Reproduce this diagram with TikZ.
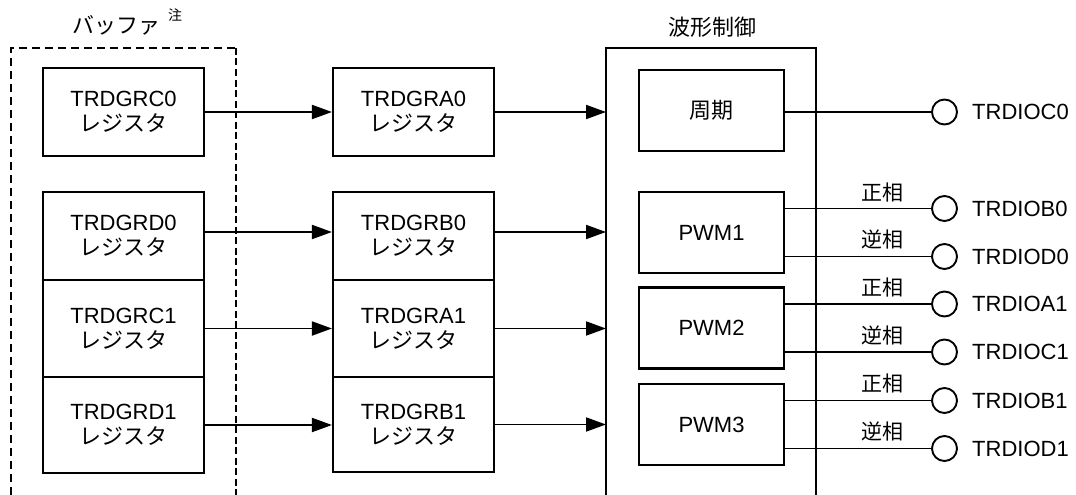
\documentclass[tikz,border=0pt]{standalone}
\usepackage{fontspec}
\setmainfont{Liberation Sans}
\newfontfamily\jp{Noto Sans CJK JP}
\usetikzlibrary{arrows.meta}
\begin{document}
\begin{tikzpicture}[x=1pt,y=-1pt,
  every node/.style={font=\fontsize{22}{25}\selectfont},
  reg/.style={draw,line width=2.1pt,minimum width=161pt,inner sep=0pt,align=center},
  wbox/.style={draw,line width=2.1pt,minimum width=145pt,minimum height=81pt,inner sep=0pt,align=center},
  arr/.style={line width=1.9pt,-{Triangle[length=20pt,width=14pt]}},
  wire/.style={line width=1.9pt},
  pin/.style={circle,draw,line width=1.9pt,minimum size=25pt,inner sep=0pt},
  pinlbl/.style={anchor=west,inner sep=0pt},
  phase/.style={inner sep=0pt,font=\fontsize{21}{22}\selectfont\jp}]
\useasboundingbox (0,0) rectangle (1076,495);
% buffer dashed frame
\draw[line width=1.5pt,dash pattern=on 8pt off 5pt] (11,495) -- (11,48) -- (236,48);
\draw[line width=2.8pt,dash pattern=on 7pt off 3.5pt] (236,48) -- (236,495);
\node[inner sep=0pt] (buftitle) at (116,25) {\jp バッファ};
\node[inner sep=0pt,font=\fontsize{14}{14}\selectfont\jp] (note) at (175,15) {注};
% waveform control frame
\draw[line width=2.1pt] (606,495) -- (606,48) -- (816,48) -- (816,495);
\coordinate (wf) at (606,48);
\node[inner sep=0pt] (wftitle) at (712,27) {\jp 波形制御};
% left registers
\node[reg,minimum height=88pt] (c0) at (123.5,112) {TRDGRC0\\{\jp レジスタ}};
\node[reg,minimum height=88pt] (d0) at (123.5,236) {TRDGRD0\\{\jp レジスタ}};
\node[reg,minimum height=97pt] (c1) at (123.5,328.5) {TRDGRC1\\{\jp レジスタ}};
\node[reg,minimum height=96pt] (d1) at (123.5,425) {TRDGRD1\\{\jp レジスタ}};
% middle registers
\node[reg,minimum height=88pt] (a0) at (413.5,112) {TRDGRA0\\{\jp レジスタ}};
\node[reg,minimum height=88pt] (b0) at (413.5,236) {TRDGRB0\\{\jp レジスタ}};
\node[reg,minimum height=97pt] (a1) at (413.5,328.5) {TRDGRA1\\{\jp レジスタ}};
\node[reg,minimum height=95pt] (b1) at (413.5,424.5) {TRDGRB1\\{\jp レジスタ}};
% arrows left -> middle
\draw[arr] (c0.east) -- (a0.west);
\draw[arr] ([yshift=4pt]d0.east) -- ([yshift=4pt]b0.west);
\draw[arr] (c1.east) -- (c1.east -| a1.west);
\draw[arr] (d1.east) -- (d1.east -| b1.west);
% arrows middle -> waveform
\draw[arr] (a0.east) -- (a0.east -| wf);
\draw[arr] ([yshift=4pt]b0.east) -- ([yshift=4pt]b0.east -| wf);
\draw[arr] (a1.east) -- (a1.east -| wf);
\draw[arr] (b1.east) -- (b1.east -| wf);
% waveform inner blocks
\node[wbox] (per) at (711.5,110.5) {\jp 周期};
\node[wbox] (p1) at (711.5,232.5) {PWM1};
\node[wbox] (p2) at (711.5,328) {PWM2};
\node[wbox] (p3) at (711.5,424.5) {PWM3};
% pins
\node[pin] (oc0) at (944.5,112) {};
\node[pin] (ob0) at (944.5,208.5) {};
\node[pin] (od0) at (944.5,256.5) {};
\node[pin] (oa1) at (944.5,304) {};
\node[pin] (oc1) at (944.5,352) {};
\node[pin] (ob1) at (944.5,400.5) {};
\node[pin] (od1) at (944.5,448.5) {};
\node[pinlbl] (loc0) at (972,112) {TRDIOC0};
\node[pinlbl] (lob0) at (972,208.5) {TRDIOB0};
\node[pinlbl] (lod0) at (972,256.5) {TRDIOD0};
\node[pinlbl] (loa1) at (972,304) {TRDIOA1};
\node[pinlbl] (loc1) at (972,352) {TRDIOC1};
\node[pinlbl] (lob1) at (972,400.5) {TRDIOB1};
\node[pinlbl] (lod1) at (972,448.5) {TRDIOD1};
% wires
\draw[wire] (per.east |- oc0) -- (oc0.west);
\draw[wire] (p1.east |- ob0) -- (ob0.west);
\draw[wire] (p1.east |- od0) -- (od0.west);
\draw[wire] (p2.east |- oa1) -- (oa1.west);
\draw[wire] (p2.east |- oc1) -- (oc1.west);
\draw[wire] (p3.east |- ob1) -- (ob1.west);
\draw[wire] (p3.east |- od1) -- (od1.west);
% phase labels
\node[phase] (s1) at (882,193) {正相};
\node[phase] (r1) at (882,240) {逆相};
\node[phase] (s2) at (882,288) {正相};
\node[phase] (r2) at (882,336) {逆相};
\node[phase] (s3) at (882,384) {正相};
\node[phase] (r3) at (882,432) {逆相};
\end{tikzpicture}
\end{document}
